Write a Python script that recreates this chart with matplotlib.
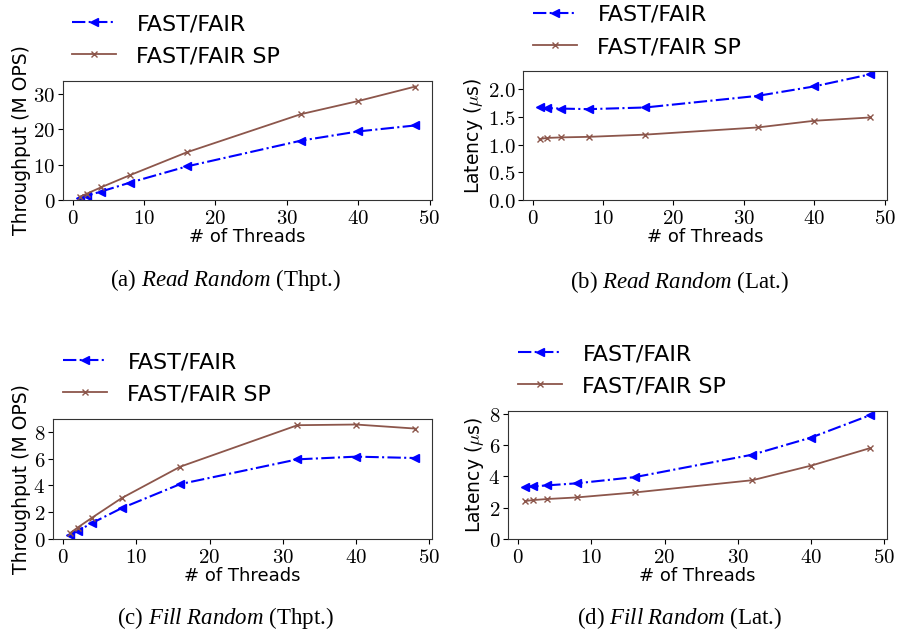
import matplotlib
matplotlib.use("Agg")
import matplotlib.pyplot as plt
from matplotlib.ticker import FuncFormatter

plt.rcParams['mathtext.fontset'] = 'cm'
plt.rcParams['mathtext.it'] = 'Liberation Serif:italic'
plt.rcParams['mathtext.rm'] = 'Liberation Serif'
plt.rcParams['font.family'] = 'DejaVu Sans'

threads = [1, 2, 4, 8, 16, 32, 40, 48]

# (a) Read Random throughput
read_thpt_ff = [0.6, 1.2, 2.4, 4.9, 9.5, 16.8, 19.4, 21.1]
read_thpt_sp = [0.9, 1.8, 3.6, 7.0, 13.5, 24.3, 28.0, 32.1]
# (b) Read Random latency
read_lat_ff = [1.67, 1.66, 1.65, 1.64, 1.67, 1.88, 2.05, 2.27]
read_lat_sp = [1.10, 1.12, 1.13, 1.14, 1.18, 1.31, 1.43, 1.49]
# (c) Fill Random throughput
fill_thpt_ff = [0.3, 0.6, 1.2, 2.3, 4.1, 5.95, 6.15, 6.05]
fill_thpt_sp = [0.45, 0.85, 1.6, 3.05, 5.4, 8.5, 8.55, 8.25]
# (d) Fill Random latency
fill_lat_ff = [3.32, 3.35, 3.42, 3.55, 3.95, 5.38, 6.47, 7.89]
fill_lat_sp = [2.42, 2.48, 2.55, 2.65, 2.97, 3.75, 4.68, 5.79]

W, H = 898, 637
fig = plt.figure(figsize=(W / 100, H / 100), dpi=100)


def px_axes(x0, y0, x1, y1):
    return fig.add_axes([x0 / W, 1 - y1 / H, (x1 - x0) / W, (y1 - y0) / H])


panels = [
    # box, ff, sp, ylabel, yticks, fmt, legend anchor, caption pos, caption
    ((63, 81, 432, 200), read_thpt_ff, read_thpt_sp, 'Throughput (M OPS)',
     [0, 10, 20, 30], '%d', (52, -6), (225, 280), ('a', 'Read', 'Thpt.')),
    ((523, 71, 887, 200), read_lat_ff, read_lat_sp, r'Latency ($\mu$s)',
     [0.0, 0.5, 1.0, 1.5, 2.0], '%.1f', (513, -15), (680, 282), ('b', 'Read', 'Lat.')),
    ((53, 419, 432, 539), fill_thpt_ff, fill_thpt_sp, 'Throughput (M OPS)',
     [0, 2, 4, 6, 8], '%d', (43, 332), (225, 618), ('c', 'Fill', 'Thpt.')),
    ((508, 411, 887, 539), fill_lat_ff, fill_lat_sp, r'Latency ($\mu$s)',
     [0, 2, 4, 6, 8], '%d', (498, 324), (680, 618), ('d', 'Fill', 'Lat.')),
]

for box, ff, sp, ylab, yticks, fmt, leg, cap, captxt in panels:
    ax = px_axes(*box)
    ax.plot(threads, ff, color='blue', linestyle='-.', marker='<', markersize=6,
            linewidth=1.5, label='FAST/FAIR')
    ax.plot(threads, sp, color='#8c564b', linestyle='-', marker='x', markersize=5,
            linewidth=1.3, label='FAST/FAIR SP')
    ax.set_ylim(bottom=0)
    ax.set_xticks([0, 10, 20, 30, 40, 50])
    ax.set_yticks(yticks)
    ax.xaxis.set_major_formatter(FuncFormatter(lambda v, p: r'$%d$' % v))
    ax.yaxis.set_major_formatter(FuncFormatter(lambda v, p, f=fmt: r'$' + (f % v) + r'$'))
    ax.tick_params(labelsize=15, pad=2)
    ax.set_xlabel('# of Threads', fontsize=13, labelpad=0)
    ax.set_ylabel(ylab, fontsize=13.5, labelpad=2)
    for s in ax.spines.values():
        s.set_color('#333333')
    ax.legend(loc='upper left', bbox_to_anchor=(leg[0] / W, 1 - leg[1] / H),
              bbox_transform=fig.transFigure, frameon=False, fontsize=16,
              handlelength=2.0, handletextpad=0.9, labelspacing=0.55)
    letter, name, kind = captxt
    fig.text(cap[0] / W, 1 - cap[1] / H,
             r'(%s) $\mathit{%s\ Random}$ (%s)' % (letter, name, kind),
             ha='center', va='center', fontsize=16.5, family='Liberation Serif',
             math_fontfamily='custom')

fig.savefig('out.png', dpi=100)
